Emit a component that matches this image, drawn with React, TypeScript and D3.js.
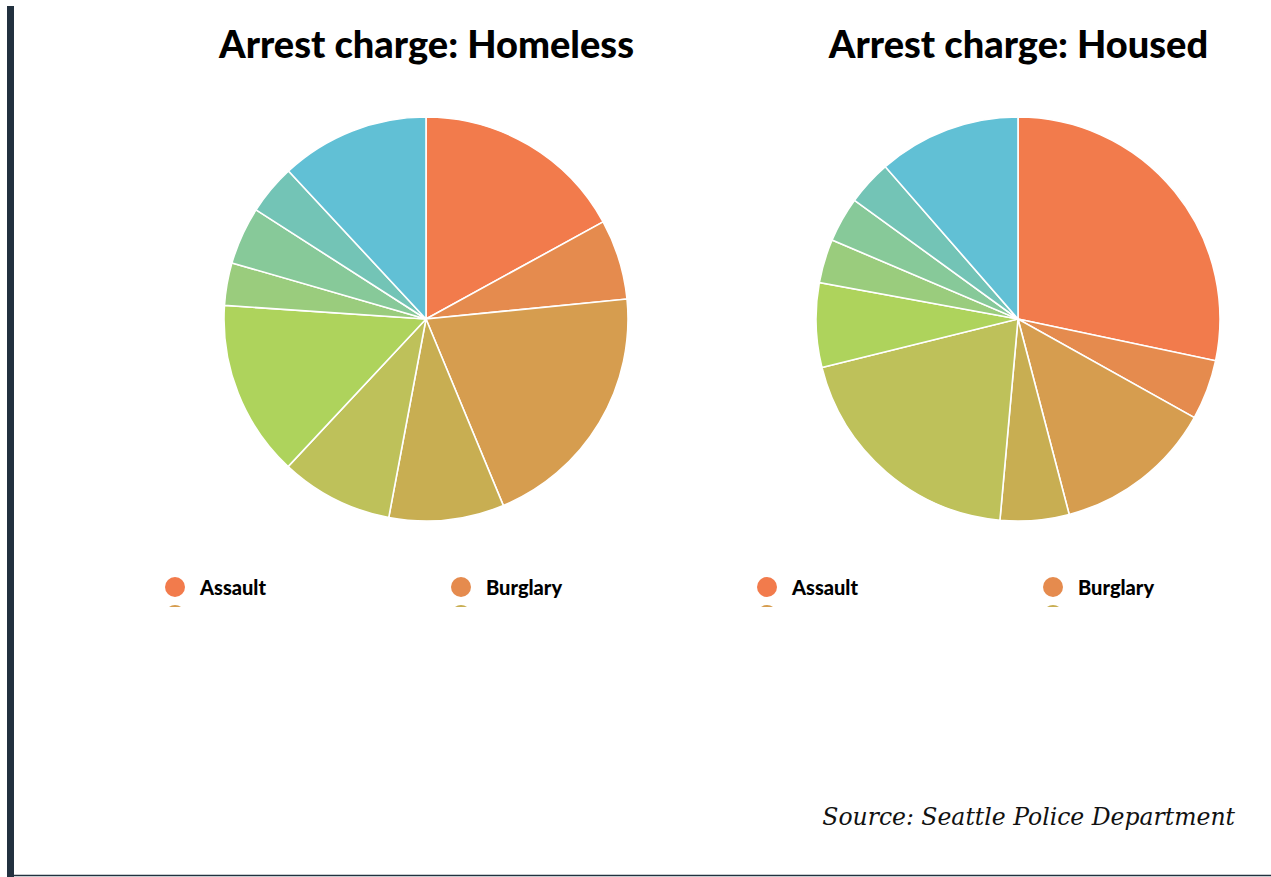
import React from "react";
import * as d3 from "d3";

const categories = [
  "Assault",
  "Burglary",
  "Drugs",
  "Property damage",
  "Theft",
  "Trespass",
  "Traffic",
  "Warrant",
  "Weapons",
  "Other",
];
const homelessValues = [17.0, 6.4, 20.3, 9.2, 9.0, 14.1, 3.4, 4.6, 4.0, 11.9];
const housedValues = [28.3, 4.8, 12.8, 5.5, 19.7, 6.75, 3.5, 3.6, 3.6, 11.4];
const colors = [
  "#F27B4C",
  "#E58B4E",
  "#D69D4F",
  "#C8AE52",
  "#BEC15A",
  "#AED35C",
  "#9ACC7D",
  "#87C999",
  "#73C4B6",
  "#61C0D5",
];
const titles = ["Arrest charge: Homeless", "Arrest charge: Housed"];
const sourceText = "Source: Seattle Police Department";

const W = 1271;
const H = 877;

function Pie({ cx, values, title, clipId }: { cx: number; values: number[]; title: string; clipId: string }) {
  const cy = 319;
  const r = 202;
  const pie = d3.pie<number>().sort(null).value((d) => d);
  const arc = d3.arc<d3.PieArcDatum<number>>().innerRadius(0).outerRadius(r);
  const arcs = pie(values);
  const color = d3.scaleOrdinal<string, string>().domain(categories).range(colors);
  const legendX = d3.scalePoint<number>().domain([0, 1]).range([cx - 251, cx + 35]);
  return (
    <g>
      <text
        x={cx + 0.5}
        y={58}
        textAnchor="middle"
        fontFamily="Lato, 'Open Sans', sans-serif"
        fontWeight={900}
        fontSize={38}
        fill="#000"
      >
        {title}
      </text>
      <g transform={`translate(${cx},${cy})`}>
        {arcs.map((a, i) => (
          <path key={i} d={arc(a) || ""} fill={color(categories[i])} stroke="#fff" strokeWidth={1.6} />
        ))}
      </g>
      <clipPath id={clipId}>
        <rect x={cx - 280} y={570} width={580} height={37} />
      </clipPath>
      <g clipPath={`url(#${clipId})`}>
        {categories.map((c, i) => {
          const col = i % 2;
          const row = Math.floor(i / 2);
          const x = legendX(col) as number;
          const y = 587 + row * 28;
          return (
            <g key={c}>
              <circle cx={x} cy={y} r={10} fill={color(c)} />
              <text
                x={x + 25}
                y={y + 8}
                fontFamily="Lato, 'Open Sans', sans-serif"
                fontWeight={900}
                fontSize={20}
                fill="#000"
              >
                {c}
              </text>
            </g>
          );
        })}
      </g>
    </g>
  );
}

export default function App() {
  return (
    <svg
      width={W}
      height={H}
      style={{ position: "absolute", left: 0, top: 0, background: "#fff" }}
    >
      <rect x={0} y={0} width={W} height={H} fill="#fff" />
      <rect x={7} y={6} width={7} height={H - 6} fill="#22313F" />
      <line x1={14} x2={W} y1={875.5} y2={875.5} stroke="#22313F" strokeWidth={1.5} />
      <Pie cx={426} values={homelessValues} title={titles[0]} clipId="clipL" />
      <Pie cx={1018} values={housedValues} title={titles[1]} clipId="clipR" />
      <text
        x={1235}
        y={825}
        textAnchor="end"
        fontFamily="'DejaVu Serif', serif"
        fontStyle="italic"
        fontSize={23.5}
        fill="#111"
      >
        {sourceText}
      </text>
    </svg>
  );
}
